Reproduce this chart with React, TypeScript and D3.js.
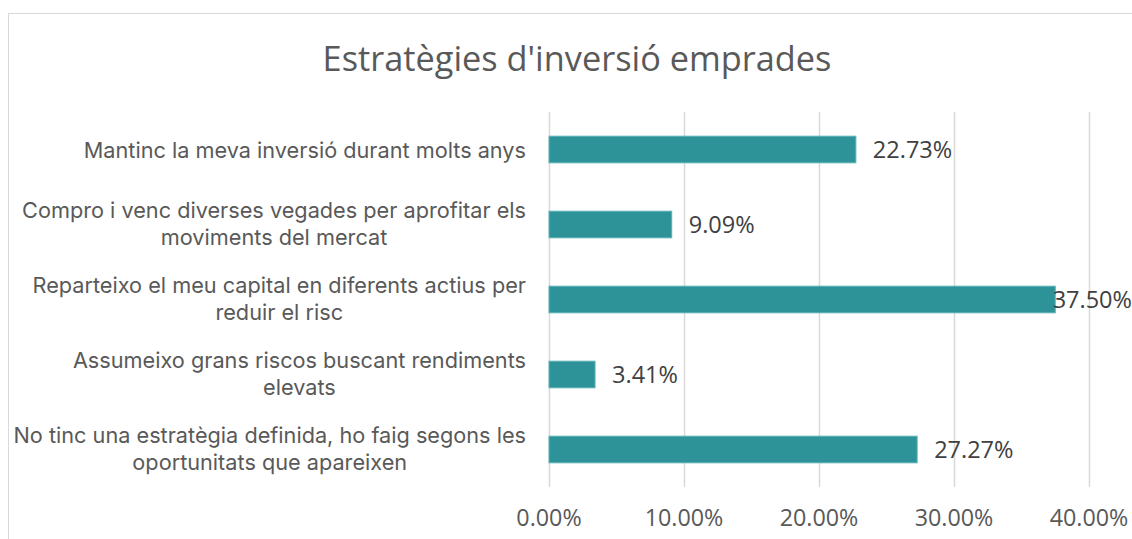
import React, { useEffect, useRef } from "react";
import * as d3 from "d3";

const title = "Estratègies d'inversió emprades";
const categories: string[][] = [
  ["Mantinc la meva inversió durant molts anys"],
  ["Compro i venc diverses vegades per aprofitar els", "moviments del mercat"],
  ["Reparteixo el meu capital en diferents actius per", "reduir el risc"],
  ["Assumeixo grans riscos buscant rendiments", "elevats"],
  ["No tinc una estratègia definida, ho faig segons les", "oportunitats que apareixen"],
];
const values = [22.73, 9.09, 37.5, 3.41, 27.27];
const ticks = [0, 10, 20, 30, 40];

const W = 1132;
const H = 539;
const FONT = "'Open Sans', 'Liberation Sans', Arial, sans-serif";
const LABEL_FONT = "Inter, 'Open Sans', Arial, sans-serif";

export default function App() {
  const ref = useRef<SVGSVGElement>(null);

  useEffect(() => {
    const svg = d3.select(ref.current);
    svg.selectAll("*").remove();

    const left = 549;
    const x = d3.scaleLinear().domain([0, 40]).range([left, 1089]);
    const y = d3
      .scaleBand<number>()
      .domain(d3.range(categories.length))
      .range([112, 487])
      .paddingInner(0.645)
      .paddingOuter(0.3225);

    // chart border
    svg
      .append("rect")
      .attr("x", 8.5)
      .attr("y", 13.5)
      .attr("width", W + 20)
      .attr("height", H + 20)
      .attr("fill", "#fff")
      .attr("stroke", "#d9d9d9")
      .attr("stroke-width", 1);

    // title
    svg
      .append("text")
      .attr("x", 577)
      .attr("y", 71)
      .attr("text-anchor", "middle")
      .attr("font-family", FONT)
      .attr("font-size", 34.3)
      .attr("fill", "#595959")
      .text(title);

    // gridlines
    svg
      .append("g")
      .selectAll("line")
      .data(ticks)
      .join("line")
      .attr("x1", (d) => Math.round(x(d)) + 0.5)
      .attr("x2", (d) => Math.round(x(d)) + 0.5)
      .attr("y1", 112)
      .attr("y2", 487)
      .attr("stroke", "#d9d9d9")
      .attr("stroke-width", 1.5);

    // tick labels
    svg
      .append("g")
      .selectAll("text")
      .data(ticks)
      .join("text")
      .attr("x", (d) => x(d))
      .attr("y", 525.5)
      .attr("text-anchor", "middle")
      .attr("font-family", FONT)
      .attr("font-size", 23.3)
      .attr("fill", "#595959")
      .text((d) => d.toFixed(2) + "%");

    // bars
    svg
      .append("g")
      .selectAll("rect")
      .data(values)
      .join("rect")
      .attr("x", x(0))
      .attr("y", (_, i) => y(i)!)
      .attr("width", (d) => x(d) - x(0))
      .attr("height", y.bandwidth())
      .attr("fill", "#2e9398")
      .attr("stroke", "#5cb1b5")
      .attr("stroke-width", 1);

    // value labels (shifted left if they would leave the chart)
    svg
      .append("g")
      .selectAll("text")
      .data(values)
      .join("text")
      .attr("y", (_, i) => y(i)! + y.bandwidth() / 2 + 8)
      .attr("font-family", FONT)
      .attr("font-size", 23.5)
      .attr("fill", "#404040")
      .text((d) => d.toFixed(2) + "%")
      .each(function (d) {
        const w = (this as SVGTextElement).getComputedTextLength();
        d3.select(this).attr("x", Math.min(x(d) + 17, W - w));
      });

    // category labels (one text per category, lines as tspans, centred on each other)
    const right = 526;
    const lineH = 26.7;
    categories.forEach((lines, i) => {
      const cy = y(i)! + y.bandwidth() / 2;
      const t = svg
        .append("text")
        .attr("text-anchor", "middle")
        .attr("font-family", LABEL_FONT)
        .attr("font-size", 21.7)
        .attr("fill", "#595959");
      const spans = lines.map((ln, j) =>
        t
          .append("tspan")
          .attr("y", cy + (lines.length > 1 ? 7 : 8) + (j - (lines.length - 1) / 2) * lineH)
          .text(ln)
      );
      const maxW =
        d3.max(spans, (s) => (s.node() as SVGTSpanElement).getComputedTextLength()) || 0;
      spans.forEach((s) => s.attr("x", right - maxW / 2));
    });
  }, []);

  return (
    <svg
      ref={ref}
      width={W}
      height={H}
      style={{ position: "fixed", left: 0, top: 0, background: "#fff" }}
    />
  );
}
